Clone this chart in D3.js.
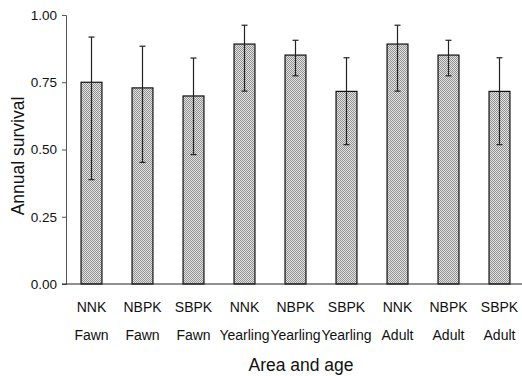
<!DOCTYPE html>
<html><head><meta charset="utf-8">
<script src="https://cdn.jsdelivr.net/npm/d3@7"></script>
<style>body{margin:0;background:#fff}svg{display:block}text{font-family:"Liberation Sans",Arial,sans-serif;fill:#111}</style>
</head><body>
<script>
const areas = ["NNK","NBPK","SBPK","NNK","NBPK","SBPK","NNK","NBPK","SBPK"];
const ages = ["Fawn","Fawn","Fawn","Yearling","Yearling","Yearling","Adult","Adult","Adult"];
const survival = [0.750,0.729,0.699,0.892,0.851,0.716,0.892,0.851,0.716];
const upper = [0.918,0.884,0.840,0.962,0.906,0.841,0.962,0.906,0.841];
const lower = [0.388,0.452,0.481,0.717,0.774,0.518,0.717,0.774,0.518];
const yTicks = [0,0.25,0.5,0.75,1.0];

const W=522,H=376;
const svg=d3.select("body").append("svg").attr("width",W).attr("height",H);
const defs=svg.append("defs");
const pat=defs.append("pattern").attr("id","dots").attr("width",2).attr("height",2).attr("patternUnits","userSpaceOnUse");
pat.append("rect").attr("width",2).attr("height",2).attr("fill","#e4e4e4");
pat.append("rect").attr("width",1).attr("height",1).attr("fill","#909090");
pat.append("rect").attr("x",1).attr("y",1).attr("width",1).attr("height",1).attr("fill","#909090");

const idx=d3.range(areas.length);
const x=d3.scaleBand().domain(idx).range([66,525]).paddingInner(0.59).paddingOuter(0.295);
const y=d3.scaleLinear().domain([0,1]).range([284,15]);

// bars
svg.selectAll("rect.bar").data(idx).join("rect").attr("class","bar")
  .attr("x",i=>x(i)).attr("width",x.bandwidth())
  .attr("y",i=>y(survival[i])).attr("height",i=>y(0)-y(survival[i]))
  .attr("fill","url(#dots)").attr("stroke","#111").attr("stroke-width",1.2);

// error bars
const eb=svg.append("g").attr("stroke","#222").attr("stroke-width",1.2);
idx.forEach(i=>{
  const cx=x(i)+x.bandwidth()/2;
  eb.append("line").attr("x1",cx).attr("x2",cx).attr("y1",y(upper[i])).attr("y2",y(lower[i]));
  eb.append("line").attr("x1",cx-3).attr("x2",cx+3).attr("y1",y(upper[i])).attr("y2",y(upper[i]));
  eb.append("line").attr("x1",cx-3).attr("x2",cx+3).attr("y1",y(lower[i])).attr("y2",y(lower[i]));
});

// y axis
const ya=svg.append("g").attr("transform","translate(66,0)")
  .call(d3.axisLeft(y).tickValues(yTicks).tickFormat(d3.format(".2f")).tickSize(4).tickPadding(5));
ya.select(".domain").attr("stroke","#555");
ya.selectAll(".tick line").attr("stroke","#555");
ya.selectAll("text").style("font-size","13.5px").attr("fill","#111");

// x axis line
svg.append("line").attr("x1",62).attr("x2",522).attr("y1",284).attr("y2",284).attr("stroke","#222").attr("stroke-width",1.2);

// x labels
svg.selectAll("text.area").data(idx).join("text").attr("class","area")
  .attr("x",i=>x(i)+x.bandwidth()/2).attr("y",312).attr("text-anchor","middle")
  .style("font-size","14px").text(i=>areas[i]);
svg.selectAll("text.age").data(idx).join("text").attr("class","age")
  .attr("x",i=>x(i)+x.bandwidth()/2).attr("y",340).attr("text-anchor","middle")
  .style("font-size","14px").text(i=>ages[i]);

svg.append("text").attr("x",301).attr("y",371).attr("text-anchor","middle").style("font-size","17.5px").text("Area and age");
svg.append("text").attr("transform","translate(24,156) rotate(-90)").attr("text-anchor","middle").style("font-size","17.5px").text("Annual survival");
</script>
</body></html>
